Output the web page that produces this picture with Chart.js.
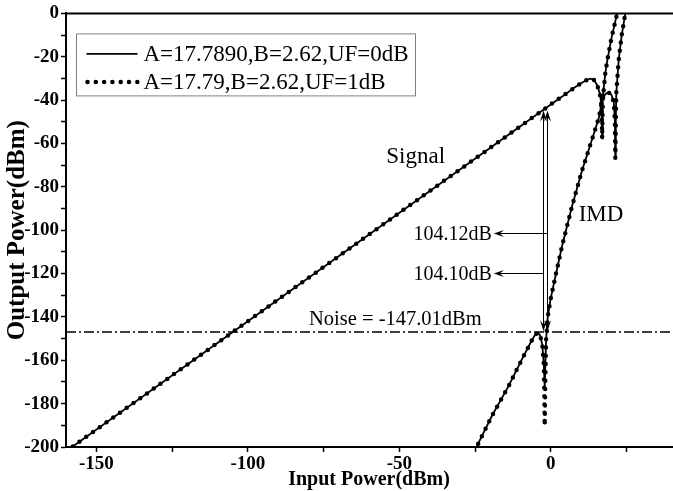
<!DOCTYPE html>
<html>
<head>
<meta charset="utf-8">
<script src="https://cdn.jsdelivr.net/npm/chart.js@4.4.1/dist/chart.umd.min.js"></script>
<style>
  html, body { margin: 0; padding: 0; background: #fff; overflow: hidden; }
  #wrap { position: relative; width: 673px; height: 491px; }
</style>
</head>
<body>
<div id="wrap"><canvas id="c"></canvas></div>
<script>
// ---------- data ----------
const seriesNames = ['A=17.7890,B=2.62,UF=0dB', 'A=17.79,B=2.62,UF=1dB'];

// Signal (fundamental) curve: input power (dBm) -> output power (dBm)
const sigIn   = [-160, 0, 4, 7.6, 10, 12, 13.1, 14.2, 15.3, 16.2, 16.7, 16.85, 16.95, 17.05, 17.2, 18.0, 18.6, 20.0, 21.9, 22.4];
const sigOut0 = [-202, -42, -38.1, -34.4, -32.2, -30.6, -30.1, -30.6, -33.1, -37, -42, -50, -57.6, -48, -39, -27.6, -22, -11.5, 0, 3.5];
const sigOut1 = [-202, -42, -38.1, -34.4, -32.2, -30.6, -30.1, -30.6, -33.1, -37, -42, -50, -57.6, -48, -39, -27.6, -22, -11.5, 0, 3.5];

// IMD curve, UF = 0 dB
const imdIn0  = [-25, -24.3, -19.4, -13.9, -9.5, -6.7, -5.2, -4.3, -3.5, -2.8, -2.3, -2.0, -1.8, -1.55, -1.0, -0.1, 1.5, 3.7, 7.0, 10.3, 12.5, 14.2, 15.8, 16.7, 17.3, 18.2, 19.1, 20.0, 20.8, 21.15, 21.3, 21.45, 21.6, 22.4, 23.4, 24.6, 25.0];
const imdOut0 = [-202, -199.4, -185.6, -171.8, -159.5, -151.9, -148.3, -147.3, -148.5, -153, -162, -172, -162, -150.3, -140, -132, -121.5, -107.4, -89, -72.5, -63, -55.5, -48.5, -42, -38.5, -37, -36.5, -37.5, -41, -50, -66.8, -50, -37, -21.6, -10, 0, 4];
// IMD curve, UF = 1 dB (deeper null near -2 dBm)
const imdIn1  = [-25, -24.3, -19.4, -13.9, -9.5, -6.7, -5.2, -4.3, -3.5, -2.8, -2.3, -2.15, -2.0, -1.85, -1.55, -1.0, -0.1, 1.5, 3.7, 7.0, 10.3, 12.5, 14.2, 15.8, 16.7, 17.3, 18.2, 19.1, 20.0, 20.8, 21.15, 21.3, 21.45, 21.6, 22.4, 23.4, 24.6, 25.0];
const imdOut1 = [-202, -199.4, -185.6, -171.8, -159.5, -151.9, -148.3, -147.3, -148.5, -153, -162, -175, -190.2, -172, -150.3, -140, -132, -121.5, -107.4, -89, -72.5, -63, -55.5, -48.5, -42, -38.5, -37, -36.5, -37.5, -41, -50, -66.8, -50, -37, -21.6, -10, 0, 4];

const noiseLevel = -147.01;
const xMin = -160, xMax = 40, yMin = -200, yMax = 0;
const xTickValues = [-150, -125, -100, -75, -50, -25, 0, 25];
const xTickLabels = [-150, -100, -50, 0];

// annotations (in data coordinates)
const arrowXs = [-2.55, -1.25];
const arrowTop = -44.8, arrowBottom = -146.6;
const dbNotes = [
  { text: '104.12dB', fromX: -1.25, toX: -18.8, y: -101.3 },
  { text: '104.10dB', fromX: -2.55, toX: -18.8, y: -119.7 }
];
const textNotes = [
  { text: 'Signal', x: -44.6, y: -66.2, size: 23, align: 'center' },
  { text: 'IMD', x: 9.2, y: -93.0, size: 23, align: 'left' },
  { text: 'Noise = -147.01dBm', x: -51.3, y: -141.1, size: 20.5, align: 'center' }
];

// ---------- helpers ----------
const zip = (xs, ys) => xs.map((x, i) => ({ x: x, y: ys[i] }));
const SERIF = "'Liberation Serif', 'Times New Roman', serif";
const DOTS = { borderWidth: 4.5, borderDash: [0, 8.3], borderCapStyle: 'round' };

const solidStyle = { borderColor: '#000', borderWidth: 1.8, pointRadius: 0, tension: 0, fill: false };
const dotStyle = Object.assign({ borderColor: '#000', pointRadius: 0, tension: 0, fill: false }, DOTS);

const datasets = [
  Object.assign({ label: seriesNames[0], data: zip(sigIn, sigOut0) }, solidStyle),
  Object.assign({ label: seriesNames[0] + ' IMD', data: zip(imdIn0, imdOut0) }, solidStyle),
  Object.assign({ label: seriesNames[1], data: zip(sigIn, sigOut1) }, dotStyle),
  Object.assign({ label: seriesNames[1] + ' IMD', data: zip(imdIn1, imdOut1) }, dotStyle),
  { label: 'Noise', data: [{ x: xMin, y: noiseLevel }, { x: xMax, y: noiseLevel }],
    borderColor: '#000', borderWidth: 1.5, borderDash: [10, 3, 2, 3], pointRadius: 0, fill: false }
];

function arrowHead(ctx, tipX, tipY, dx, dy, len, half) {
  const bx = tipX - dx * len, by = tipY - dy * len;
  const px = -dy, py = dx;
  ctx.beginPath();
  ctx.moveTo(tipX, tipY);
  ctx.lineTo(bx + px * half, by + py * half);
  ctx.lineTo(tipX - dx * len * 0.6, tipY - dy * len * 0.6);
  ctx.lineTo(bx - px * half, by - py * half);
  ctx.closePath();
  ctx.fill();
}

const decorPlugin = {
  id: 'decor',
  afterDatasetsDraw(chart) {
    const { ctx, chartArea: a, scales: { x, y } } = chart;
    ctx.save();
    // top frame line
    ctx.strokeStyle = '#000';
    ctx.lineWidth = 2;
    ctx.beginPath();
    ctx.moveTo(a.left, a.top);
    ctx.lineTo(a.right + 2, a.top);
    ctx.stroke();

    // double-headed vertical arrows
    ctx.fillStyle = '#000';
    ctx.lineWidth = 1;
    arrowXs.forEach(v => {
      const px = Math.round(x.getPixelForValue(v)) + 0.5;
      const t = y.getPixelForValue(arrowTop), b = y.getPixelForValue(arrowBottom);
      ctx.beginPath();
      ctx.moveTo(px, t + 4);
      ctx.lineTo(px, b - 4);
      ctx.stroke();
      arrowHead(ctx, px, t, 0, -1, 11, 3.5);
      arrowHead(ctx, px, b, 0, 1, 11, 3.5);
    });

    // horizontal arrows with dB labels
    ctx.font = '20px ' + SERIF;
    ctx.textBaseline = 'middle';
    ctx.textAlign = 'right';
    dbNotes.forEach(n => {
      const x0 = x.getPixelForValue(n.fromX), x1 = x.getPixelForValue(n.toX);
      const py = Math.round(y.getPixelForValue(n.y)) + 0.5;
      ctx.beginPath();
      ctx.moveTo(x0, py);
      ctx.lineTo(x1 + 4, py);
      ctx.stroke();
      arrowHead(ctx, x1, py, -1, 0, 10, 3.5);
      ctx.fillText(n.text, x1 - 2, py + 1);
    });

    // text notes
    textNotes.forEach(n => {
      ctx.font = n.size + 'px ' + SERIF;
      ctx.textAlign = n.align;
      ctx.fillText(n.text, x.getPixelForValue(n.x), y.getPixelForValue(n.y));
    });

    // legend box
    const lx = a.left + 10.5, ly = a.top + 20.5, lw = 339, lh = 62;
    ctx.fillStyle = '#fff';
    ctx.fillRect(lx, ly, lw, lh);
    ctx.strokeStyle = '#808080';
    ctx.lineWidth = 1;
    ctx.strokeRect(lx, ly, lw, lh);
    ctx.fillStyle = '#000';
    ctx.strokeStyle = '#000';
    ctx.font = '23px ' + SERIF;
    ctx.textAlign = 'left';
    const rows = [ly + 20, ly + 48];
    ctx.lineWidth = 1.8;
    ctx.beginPath();
    ctx.moveTo(lx + 10, rows[0]);
    ctx.lineTo(lx + 61, rows[0]);
    ctx.stroke();
    ctx.fillText(seriesNames[0], lx + 67, rows[0] + 1);
    ctx.lineWidth = DOTS.borderWidth;
    ctx.lineCap = 'round';
    ctx.setLineDash(DOTS.borderDash);
    ctx.beginPath();
    ctx.moveTo(lx + 11, rows[1]);
    ctx.lineTo(lx + 61, rows[1]);
    ctx.stroke();
    ctx.setLineDash([]);
    ctx.lineCap = 'butt';
    ctx.fillText(seriesNames[1], lx + 67, rows[1] + 1);
    ctx.restore();
  }
};

new Chart(document.getElementById('c'), {
  type: 'line',
  data: { datasets: datasets },
  options: {
    responsive: true,
    maintainAspectRatio: false,
    animation: false,
    events: [],
    layout: { padding: { top: 13, right: 1, left: 0, bottom: 0 } },
    plugins: { legend: { display: false }, tooltip: { enabled: false } },
    scales: {
      x: {
        type: 'linear',
        min: xMin, max: xMax,
        afterFit: s => { s.height = 44; },
        afterBuildTicks: s => { s.ticks = xTickValues.map(v => ({ value: v })); },
        ticks: {
          color: '#000',
          padding: 1,
          maxRotation: 0,
          autoSkip: false,
          font: { family: SERIF, size: 19, weight: 'bold' },
          callback: v => (xTickLabels.includes(v) ? String(v) : '')
        },
        grid: { drawOnChartArea: false, drawTicks: true, tickLength: 5, tickColor: '#000', tickWidth: 1.5 },
        border: { color: '#000', width: 2 },
        title: {
          display: true, text: 'Input Power(dBm)', color: '#000',
          font: { family: SERIF, size: 20, weight: 'bold' },
          padding: { top: 0, bottom: -1 }
        }
      },
      y: {
        type: 'linear',
        min: yMin, max: yMax,
        afterFit: s => { s.width = 66; },
        ticks: {
          color: '#000',
          stepSize: 10,
          padding: 2,
          autoSkip: false,
          font: { family: SERIF, size: 19, weight: 'bold' },
          callback: v => (v % 20 === 0 ? String(v) : '')
        },
        grid: { drawOnChartArea: false, drawTicks: true, tickLength: 5, tickColor: '#000', tickWidth: 1.5 },
        border: { color: '#000', width: 2 },
        title: {
          display: true, text: 'Output Power(dBm)', color: '#000',
          font: { family: SERIF, size: 25, weight: 'bold' },
          padding: { top: 3, bottom: 0 }
        }
      }
    }
  },
  plugins: [decorPlugin]
});
</script>
</body>
</html>
